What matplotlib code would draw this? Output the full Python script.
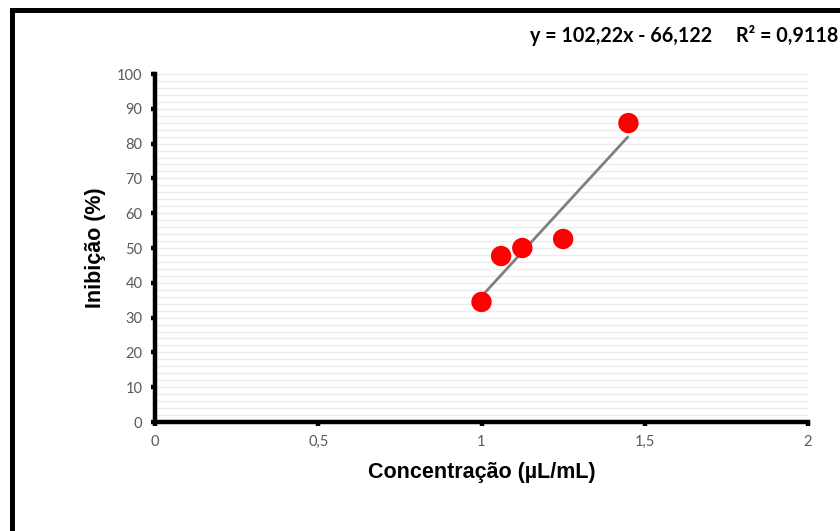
import matplotlib

matplotlib.use("Agg")
import matplotlib.pyplot as plt
from matplotlib.patches import Rectangle
from matplotlib.ticker import MultipleLocator

# data
concentracao = [1.0, 1.06, 1.125, 1.25, 1.45]
inibicao = [34.5, 47.7, 50.0, 52.6, 85.9]
slope, intercept = 102.22, -66.122
r2_text = "0,9118"
x_ticks = [0, 0.5, 1, 1.5, 2]
x_tick_labels = ["0", "0,5", "1", "1,5", "2"]
y_ticks = list(range(0, 101, 10))

fig = plt.figure(figsize=(8.4, 5.31), dpi=100)
ax = fig.add_axes([155 / 840, 1 - 422 / 531, 653 / 840, 348 / 531])

# outer frame, cut off at right and bottom like the reference
fig.patches.append(Rectangle((12 / 840, -0.2), 1.2, 1.2 - 10 / 531,
                             transform=fig.transFigure, fill=False,
                             edgecolor="black", linewidth=3.6, zorder=0))

ax.set_xlim(0, 2)
ax.set_ylim(0, 100)
ax.set_xticks(x_ticks)
ax.set_xticklabels(x_tick_labels)
ax.set_yticks(y_ticks)
ax.yaxis.set_minor_locator(MultipleLocator(2))
ax.grid(True, which="both", axis="y", color="#ececec", linewidth=1.0)
ax.set_axisbelow(True)

for side in ("top", "right"):
    ax.spines[side].set_visible(False)
for side in ("left", "bottom"):
    ax.spines[side].set_linewidth(3.2)
    ax.spines[side].set_color("black")

ax.tick_params(which="major", direction="out", length=3, width=3.2,
               color="black", labelcolor="#595959", labelsize=10.5,
               pad=6)
ax.tick_params(which="minor", length=0)
for lab in ax.get_xticklabels() + ax.get_yticklabels():
    lab.set_family("Lato")

xs = [min(concentracao), max(concentracao)]
ax.plot(xs, [slope * x + intercept for x in xs], color="#808080",
        linewidth=2.0, zorder=2, solid_capstyle="butt")
ax.scatter(concentracao, inibicao, s=215, color="#ff0000",
           edgecolors="none", zorder=3, clip_on=False)

ax.set_xlabel("Concentração (µL/mL)", fontsize=15.5, fontweight="bold",
              family="Liberation Sans", labelpad=10)
ax.set_ylabel("Inibição (%)", fontsize=15.5, fontweight="bold",
              family="Liberation Sans", labelpad=8)

fig.text(530 / 840, 1 - 36 / 531,
         f"y = {slope:.2f}x - {abs(intercept):.3f}     R² = {r2_text}".replace(".", ","),
         fontsize=14.2, fontweight="bold", family="Lato", va="center", ha="left")

fig.savefig("out.png", dpi=100)
